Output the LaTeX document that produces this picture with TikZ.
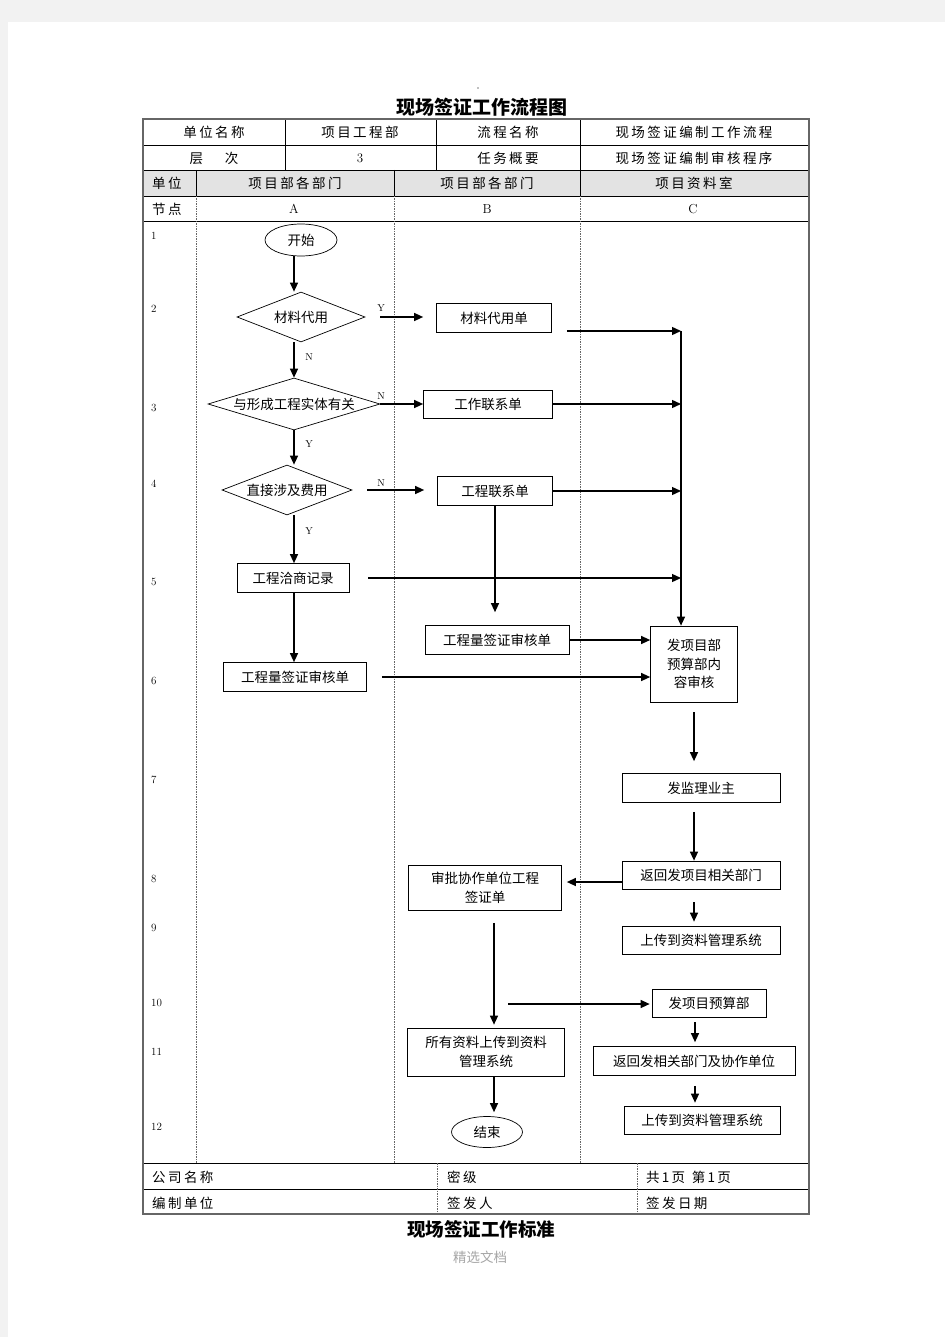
\documentclass[tikz,border=0pt]{standalone}
\usepackage{fontspec}
\usetikzlibrary{shapes.geometric,arrows.meta}
\newfontfamily\cjk{Noto Sans CJK SC}
\newfontfamily\cjkw{Noto Sans CJK SC}[LetterSpace=18]
\newcommand{\bx}{\fontsize{13.5}{18.5}\selectfont}
\newcommand{\hd}{\fontsize{13.5}{16}\selectfont}

\begin{document}
\begin{tikzpicture}[x=1pt,y=-1pt,
   box/.style={draw,line width=0.7pt,inner sep=0pt,align=center,font=\cjk\bx},
   dec/.style={draw,diamond,line width=0.7pt,inner sep=0pt,aspect=3.3,font=\cjk\bx},
   term/.style={draw,ellipse,line width=0.7pt,inner sep=0pt,font=\cjk\bx},
   arr/.style={-{Triangle[length=9pt,width=8pt]},line width=1.3pt},
   yn/.style={font=\fontsize{10}{10}\selectfont,inner sep=0pt},
   lane/.style={black!60,line width=0.8pt,dash pattern=on 1.5pt off 1pt},
   rim/.style={black!60,line width=1.5pt},
   rule/.style={line width=0.7pt},
   head/.style={font=\cjkw\hd,inner sep=0pt},
   num/.style={font=\fontsize{11}{12}\selectfont,anchor=west,inner sep=0pt}]
   \fill[black!5] (0,0) rectangle (945,1337);
   \fill[white] (8,22) rectangle (945,1337);
   \fill[gray] (478,88) circle (0.8);
   \node[font=\cjk\bfseries\fontsize{19}{21}\selectfont] (title) at (482,107) {现场签证工作流程图};

   \fill[gray!22] (143,170) rectangle (809,196);
   \draw[rule] (143,145) -- (809,145) (143,170) -- (809,170) (143,196) -- (809,196)
      (143,221) -- (809,221) (143,1163) -- (809,1163) (143,1189) -- (809,1189);
   \draw[rule] (285,119) -- (285,170) (436,119) -- (436,170) (580,119) -- (580,196)
      (196,170) -- (196,196) (394,170) -- (394,196);
   \draw[lane] (196,196) -- (196,1163) (394,196) -- (394,1163) (580,196) -- (580,1163)
      (437,1163) -- (437,1214) (637,1163) -- (637,1214);
   \draw[rim] (143,119) rectangle (809,1214);

   \node[head] (unit) at (214,132) {单位名称};
   \node[head] (dept) at (360,132) {项目工程部};
   \node[head] (pname) at (508,132) {流程名称};
   \node[head] (pval) at (694,132) {现场签证编制工作流程};
   \node[head] (lvl) at (214,158) {层\hspace{1.6em}次};
   \node[font=\fontsize{13}{14}\selectfont,inner sep=0pt] (lvlv) at (360,158) {3};
   \node[head] (task) at (508,158) {任务概要};
   \node[head] (taskv) at (694,158) {现场签证编制审核程序};
   \node[head,anchor=west] (hu) at (152,183) {单位};
   \node[head] (ha) at (295,183) {项目部各部门};
   \node[head] (hb) at (487,183) {项目部各部门};
   \node[head] (hc) at (694,183) {项目资料室};
   \node[head,anchor=west] (hn) at (152,209) {节点};
   \node[font=\fontsize{13}{14}\selectfont,inner sep=0pt] (ca) at (294,209) {A};
   \node[font=\fontsize{13}{14}\selectfont,inner sep=0pt] (cb) at (487,209) {B};
   \node[font=\fontsize{13}{14}\selectfont,inner sep=0pt] (cc) at (693,209) {C};

   \node[num] (r1) at (151,236) {1};
   \node[num] (r2) at (151,309) {2};
   \node[num] (r3) at (151,408) {3};
   \node[num] (r4) at (151,484) {4};
   \node[num] (r5) at (151,582) {5};
   \node[num] (r6) at (151,681) {6};
   \node[num] (r7) at (151,780) {7};
   \node[num] (r8) at (151,879) {8};
   \node[num] (r9) at (151,928) {9};
   \node[num] (r10) at (151,1003) {10};
   \node[num] (r11) at (151,1052) {11};
   \node[num] (r12) at (151,1127) {12};

   \node[term,minimum width=72pt,minimum height=32pt] (start) at (301,240) {开始};
   \node[dec,minimum width=128pt,minimum height=50pt] (d1) at (301,317) {材料代用};
   \node[dec,minimum width=172pt,minimum height=52pt] (d2) at (294,404) {与形成工程实体有关};
   \node[dec,minimum width=130pt,minimum height=50pt] (d3) at (287,490) {直接涉及费用};
   \node[box,minimum width=112pt,minimum height=29pt] (rec) at (293,578) {工程洽商记录};
   \node[box,minimum width=143pt,minimum height=29pt] (qA) at (295,677) {工程量签证审核单};
   \node[box,minimum width=115pt,minimum height=29pt] (mat) at (494,318) {材料代用单};
   \node[box,minimum width=129pt,minimum height=28pt] (work) at (488,404) {工作联系单};
   \node[box,minimum width=115pt,minimum height=29pt] (eng) at (495,491) {工程联系单};
   \node[box,minimum width=144pt,minimum height=29pt] (qB) at (497,640) {工程量签证审核单};
   \node[box,minimum width=87pt,minimum height=76pt] (rev) at (694,664) {发项目部\\预算部内\\容审核};
   \node[box,minimum width=158pt,minimum height=29pt] (sup) at (701,788) {发监理业主};
   \node[box,minimum width=158pt,minimum height=28pt] (ret) at (701,875) {返回发项目相关部门};
   \node[box,minimum width=153pt,minimum height=45pt] (app) at (485,888) {审批协作单位工程\\签证单};
   \node[box,minimum width=158pt,minimum height=28pt] (up1) at (701,940) {上传到资料管理系统};
   \node[box,minimum width=114pt,minimum height=28pt] (bud) at (709,1003) {发项目预算部};
   \node[box,minimum width=202pt,minimum height=29pt] (ret2) at (694,1061) {返回发相关部门及协作单位};
   \node[box,minimum width=157pt,minimum height=48pt] (all) at (486,1052) {所有资料上传到资料\\管理系统};
   \node[box,minimum width=156pt,minimum height=28pt] (up2) at (702,1120) {上传到资料管理系统};
   \node[term,minimum width=71pt,minimum height=31pt] (end) at (487,1132) {结束};

   \node[yn] (l1) at (381,308) {Y};
   \node[yn] (l2) at (309,357) {N};
   \node[yn] (l3) at (381,396) {N};
   \node[yn] (l4) at (309,444) {Y};
   \node[yn] (l5) at (381,483) {N};
   \node[yn] (l6) at (309,531) {Y};

   \coordinate (colA) at (294,0);
   \coordinate (colB) at (494,0);
   \coordinate (colC) at (695,0);
   \coordinate (top) at (681,331);
   \coordinate (fork) at (508,1004);
   \draw[arr] (start.south -| colA) -- (d1.north -| colA);
   \draw[arr] (d1.south -| colA) -- (d2.north -| colA);
   \draw[arr] (d2.south -| colA) -- (d3.north -| colA);
   \draw[arr] (d3.south -| colA) -- (rec.north -| colA);
   \draw[arr] (rec.south -| colA) -- (qA.north -| colA);
   \draw[arr,shorten >=13pt] ([xshift=15pt]d1.east) -- (d1.east -| mat.west);
   \draw[arr] (d2.east) -- (d2.east -| work.west);
   \draw[arr,shorten >=13pt] ([xshift=15pt]d3.east) -- (d3.east -| eng.west);
   \draw[arr] ([xshift=15pt]mat.east |- top) -- (top);
   \draw[arr] (top) -- (top |- rev.north);
   \draw[arr] (work.east) -- (work.east -| top);
   \draw[arr] (eng.east) -- (eng.east -| top);
   \draw[arr] ([xshift=19pt]rec.east) -- (rec.east -| top);
   \draw[arr,shorten >=13pt] (eng.south) -- (eng.south |- qB.north);
   \draw[arr] (qB.east) -- (qB.east -| rev.west);
   \draw[arr] ([xshift=15pt]qA.east) -- (qA.east -| rev.west);
   \draw[arr,shorten <=10pt,shorten >=12pt] (rev.south) -- (rev.south |- sup.north);
   \draw[arr,shorten <=9pt] (sup.south -| rev) -- (ret.north -| rev);
   \draw[arr,shorten >=5pt] ([yshift=-7pt]ret.west) -- ([yshift=-7pt]ret.west -| app.east);
   \draw[arr,shorten <=13pt,shorten >=4pt] (ret.south -| rev) -- (up1.north -| rev);
   \draw[arr,shorten <=12pt,shorten >=3pt] (app.south -| colB) -- (all.north -| colB);
   \draw[arr,shorten >=2pt] (fork) -- (fork -| bud.west);
   \draw[arr,shorten <=5pt,shorten >=4pt] (bud.south -| colC) -- (ret2.north -| colC);
   \draw[arr,shorten <=10pt,shorten >=3pt] (ret2.south -| colC) -- (up2.north -| colC);
   \draw[arr,shorten >=4pt] (all.south -| colB) -- (end.north -| colB);

   \node[head,anchor=west] (co) at (152,1177) {公司名称};
   \node[head,anchor=west] (sec) at (447,1177) {密级};
   \node[head,anchor=west] (pg) at (646,1177) {共\,1\,页\enspace 第\,1\,页};
   \node[head,anchor=west] (org) at (152,1203) {编制单位};
   \node[head,anchor=west] (sig) at (447,1203) {签发人};
   \node[head,anchor=west] (date) at (646,1203) {签发日期};
   \node[font=\cjk\bfseries\fontsize{18.5}{20}\selectfont] (std) at (481,1229) {现场签证工作标准};
   \node[font=\cjk\fontsize{13.5}{15}\selectfont,text=gray!70] (mark) at (480,1257) {精选文档};
\end{tikzpicture}
\end{document}
